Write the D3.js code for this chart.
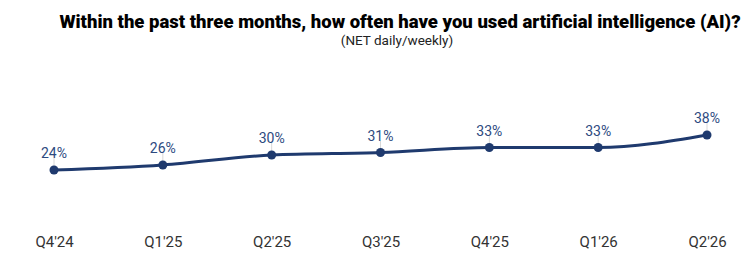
<!DOCTYPE html>
<html>
<head>
<meta charset="utf-8">
<script src="https://cdn.jsdelivr.net/npm/d3@7"></script>
<style>
  body { margin: 0; background: #fff; }
  svg { display: block; }
</style>
</head>
<body>
<div id="chart"></div>
<script>
const quarters = ["Q4'24", "Q1'25", "Q2'25", "Q3'25", "Q4'25", "Q1'26", "Q2'26"];
const usage = [24, 26, 30, 31, 33, 33, 38];

const svgWidth = 750;
const svgHeight = 258;

const svg = d3.select("#chart").append("svg")
  .attr("width", svgWidth)
  .attr("height", svgHeight);

// title + subtitle
svg.append("text")
  .attr("x", 400)
  .attr("y", 28)
  .attr("text-anchor", "middle")
  .style("font-family", "Roboto, sans-serif")
  .style("font-weight", "900")
  .style("font-size", "18.5px")
  .attr("fill", "#000")
  .text("Within the past three months, how often have you used artificial intelligence (AI)?");

svg.append("text")
  .attr("x", 397)
  .attr("y", 45)
  .attr("text-anchor", "middle")
  .style("font-family", "Roboto, sans-serif")
  .style("font-size", "13.5px")
  .attr("fill", "#222")
  .text("(NET daily/weekly)");

const xScale = d3.scalePoint()
  .domain(quarters)
  .range([54, 707]);

const yScale = d3.scaleLinear()
  .domain([0, 40])
  .range([230, 130]);

const data = quarters.map((q, i) => ({ quarter: q, value: usage[i] }));

// x axis, labels only
const xAxis = svg.append("g")
  .attr("transform", "translate(0,236)")
  .call(d3.axisBottom(xScale).tickSize(0).tickPadding(0));
xAxis.select(".domain").remove();
xAxis.selectAll("text")
  .attr("dy", "0.71em")
  .style("font-family", "Roboto, sans-serif")
  .style("font-size", "15px")
  .attr("fill", "#333");

// leader lines from label to point
svg.selectAll(".leader")
  .data(data)
  .enter()
  .append("line")
  .attr("class", "leader")
  .attr("x1", d => xScale(d.quarter))
  .attr("x2", d => xScale(d.quarter))
  .attr("y1", d => yScale(d.value) - 12)
  .attr("y2", d => yScale(d.value))
  .attr("stroke", "#d8d8d8")
  .attr("stroke-width", 1);

const line = d3.line()
  .x(d => xScale(d.quarter))
  .y(d => yScale(d.value))
  .curve(d3.curveMonotoneX);

svg.append("path")
  .datum(data)
  .attr("d", line)
  .attr("fill", "none")
  .attr("stroke", "#1f3a6e")
  .attr("stroke-width", 3);

svg.selectAll(".dot")
  .data(data)
  .enter()
  .append("circle")
  .attr("class", "dot")
  .attr("cx", d => xScale(d.quarter))
  .attr("cy", d => yScale(d.value))
  .attr("r", 4.5)
  .attr("fill", "#1f3a6e");

svg.selectAll(".label")
  .data(data)
  .enter()
  .append("text")
  .attr("class", "label")
  .attr("x", d => xScale(d.quarter))
  .attr("y", d => yScale(d.value) - 12)
  .attr("text-anchor", "middle")
  .style("font-family", "Roboto, sans-serif")
  .style("font-size", "14px")
  .attr("fill", "#2d4a7f")
  .text(d => d.value + "%");
</script>
</body>
</html>
